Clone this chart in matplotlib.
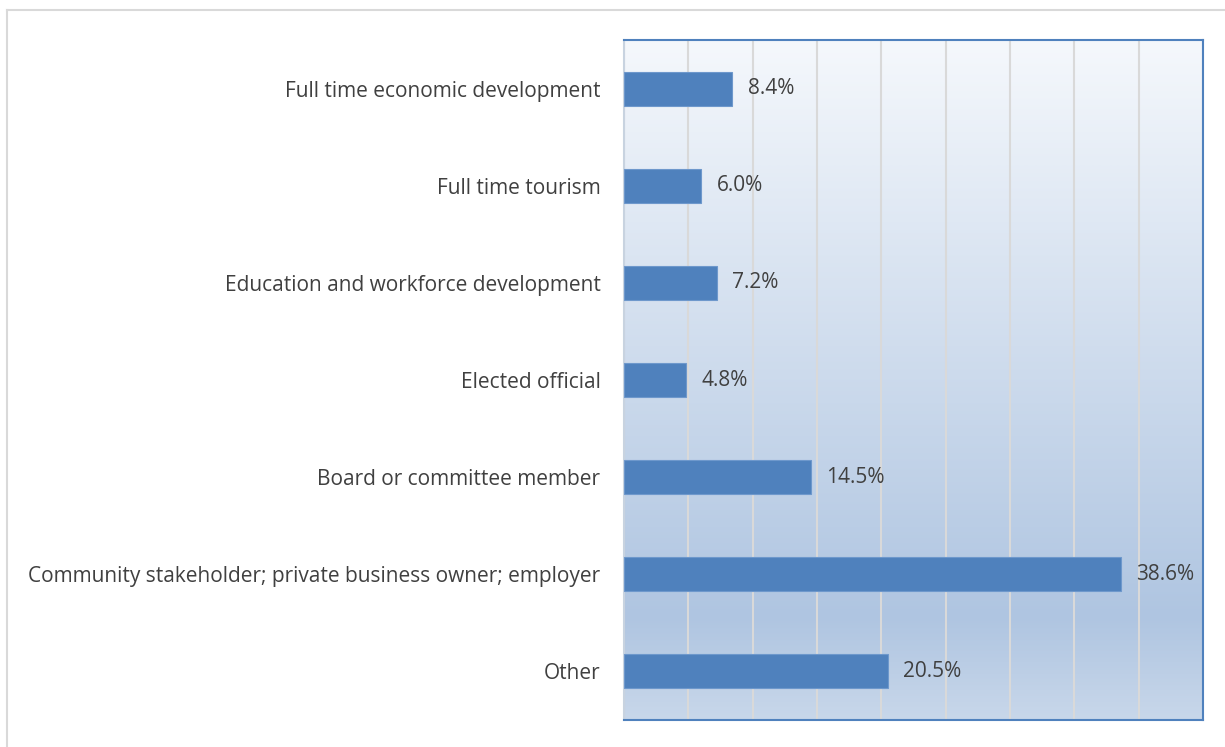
import matplotlib
matplotlib.use("Agg")
import matplotlib.pyplot as plt
import numpy as np
from matplotlib.colors import LinearSegmentedColormap
from matplotlib.lines import Line2D

categories = ["Full time economic development", "Full time tourism",
              "Education and workforce development", "Elected official",
              "Board or committee member",
              "Community stakeholder; private business owner; employer",
              "Other"]
values = [8.4, 6.0, 7.2, 4.8, 14.5, 38.6, 20.5]
labels = ["8.4%", "6.0%", "7.2%", "4.8%", "14.5%", "38.6%", "20.5%"]

plt.rcParams['font.family'] = ['Open Sans', 'DejaVu Sans']

fig = plt.figure(figsize=(12.25, 7.47), dpi=100)
fig.patch.set_facecolor('white')
# outer frame (only top/left visible)
fig.add_artist(Line2D([7/1225, 7/1225], [0, 1 - 10/747], color='#d9d9d9', lw=1.5, transform=fig.transFigure))
fig.add_artist(Line2D([7/1225, 1], [1 - 10/747, 1 - 10/747], color='#d9d9d9', lw=1.5, transform=fig.transFigure))

ax = fig.add_axes([624/1225, 27/747, (1203-624)/1225, (720-40)/747])

# gradient background
cmap = LinearSegmentedColormap.from_list('g', [(0, '#f5f8fc'), (0.85, '#afc5e1'), (1.0, '#c8d7ea')])
grad = np.linspace(0, 1, 256).reshape(-1, 1)
im = ax.imshow(grad, aspect='auto', cmap=cmap, extent=[0, 1, 0, 1], transform=ax.transAxes,
               zorder=0, interpolation='bilinear')
im.set_clip_path(ax.patch)

y = np.arange(len(categories))
ax.barh(y, values, height=0.35, color='#4f81bd', edgecolor='#6e98cc', linewidth=0.8, zorder=3)
for yi, v, lab in zip(y, values, labels):
    ax.text(v + 1.2, yi, lab, va='center', ha='left', fontsize=15, color='#404040', zorder=4)

ax.set_xlim(0, 45)
ax.set_ylim(len(categories) - 0.5, -0.5)
ax.set_xticks(np.arange(0, 46, 5))
ax.xaxis.grid(True, color='#d9d9d9', lw=1.5, zorder=1)
ax.set_axisbelow(True)
ax.tick_params(axis='x', length=0, labelbottom=False)
ax.tick_params(axis='y', length=0, pad=17, labelsize=15, labelcolor='#404040')
ax.set_yticks(y)
ax.set_yticklabels(categories)
for s in ['top', 'right', 'bottom']:
    ax.spines[s].set_color('#4f81bd')
    ax.spines[s].set_linewidth(1.5)
ax.spines['left'].set_color('#c8d3e0')
ax.spines['left'].set_linewidth(1.5)

fig.savefig('out.png', dpi=100, facecolor='white')
